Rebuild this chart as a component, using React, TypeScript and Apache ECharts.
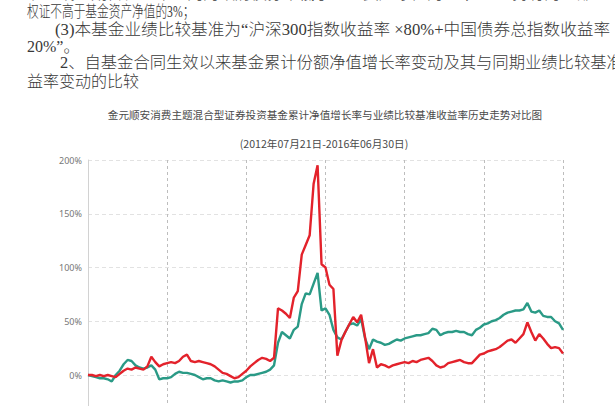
import React, { useEffect, useRef } from 'react';
import * as echarts from 'echarts';

// 基金累计净值增长率 (%)
const fund = [
  0, 0, -1, 0, -1, 0, -1, -2, 1, 4,
  6, 5, 7, 6, 5, 8, 17, 12, 8, 10,
  11, 12, 11, 13, 17, 19, 13, 12, 13, 12,
  11, 10, 8, 5, 2, 1, -1, -3, -2, 1,
  4, 8, 11, 14, 16, 15, 13, 16, 62, 60,
  57, 53, 72, 78, 112, 121, 130, 178, 195, 103,
  100, 84, 80, 18, 32, 40, 47, 54, 49, 56,
  35, 11, 24, 7, 10, 9, 7, 9, 10, 11,
  12, 11, 13, 12, 14, 15, 16, 13, 9, 7,
  8, 11, 12, 13, 14, 12, 11, 11, 15, 19,
  20, 22, 23, 24, 26, 29, 32, 33, 30, 34,
  38, 49, 40, 32, 38, 34, 29, 25, 26, 25,
  20,
];

// 业绩比较基准收益率 (%)
const bench = [
  0, -1, -2, -3, -3, -4, -6, 0, 4, 10,
  14, 13, 9, 7, 6, 7, 9, 5, -4, -3,
  -3, -2, 1, 3, 2, 2, 1, 0, -2, -4,
  -3, -3, -5, -6, -5, -6, -7, -6, -6, -5,
  -2, 0, 0, 1, 2, 3, 5, 9, 30, 40,
  37, 34, 42, 45, 66, 76, 75, 85, 95, 60,
  62, 56, 42, 35, 33, 40, 47, 48, 46, 52,
  34, 24, 33, 31, 30, 28, 29, 31, 33, 32,
  34, 35, 36, 37, 37, 38, 39, 43, 42, 37,
  39, 40, 40, 41, 40, 40, 38, 37, 42, 44,
  47, 48, 50, 51, 53, 56, 58, 59, 60, 60,
  61, 67, 59, 58, 60, 55, 54, 54, 50, 48,
  42,
];

const yMin = -50;
const yMax = 200;
const yStep = 50;

const chartTitle = '金元顺安消费主题混合型证券投资基金累计净值增长率与业绩比较基准收益率历史走势对比图';
const chartPeriod = '(2012年07月21日-2016年06月30日)';

const textLines = [
  '现金或到期日在一年以内的政府债券不低于基金资产净值的5%，基金持有的全部',
  '权证不高于基金资产净值的3%；',
  '(3)本基金业绩比较基准为“沪深300指数收益率 ×80%+中国债券总指数收益率',
  '20%”。',
  '2、自基金合同生效以来基金累计份额净值增长率变动及其与同期业绩比较基准收',
  '益率变动的比较',
];

const categories = fund.map((_, i) => String(i));

const bodyFont = '"Liberation Serif", "Noto Sans CJK SC", serif';
const cjkFont = '"Noto Sans CJK SC", "Noto Sans", sans-serif';

export default function App() {
  const ref = useRef<HTMLDivElement>(null);

  useEffect(() => {
    if (!ref.current) return;
    const chart = echarts.init(ref.current, undefined, { renderer: 'svg' });

    const lineLayout = [
      { x: 27, y: -7, sx: 1 },
      { x: 27, y: 11.7, sx: 0.73 },
      { x: 55, y: 30, sx: 1.042 },
      { x: 27, y: 46.5, sx: 1 },
      { x: 60, y: 63, sx: 1.02 },
      { x: 27, y: 81, sx: 1 },
    ];

    const graphic = textLines.map((t, i) => ({
      type: 'text',
      x: lineLayout[i].x,
      y: lineLayout[i].y,
      scaleX: lineLayout[i].sx,
      silent: true,
      style: {
        text: t,
        fontSize: 16,
        fontWeight: 300,
        fontFamily: bodyFont,
        fill: '#383838',
        verticalAlign: 'middle',
        align: 'left',
      },
    }));

    chart.setOption({
      animation: false,
      backgroundColor: '#ffffff',
      title: [
        {
          text: chartTitle,
          left: 325,
          top: 109.5,
          textAlign: 'center',
          padding: 0,
          textStyle: { fontSize: 10.6, fontWeight: 'normal', color: '#4a4a4a', fontFamily: cjkFont },
        },
        {
          text: chartPeriod,
          left: 324,
          top: 138.5,
          textAlign: 'center',
          padding: 0,
          textStyle: { fontSize: 10.6, fontWeight: 'normal', color: '#4a4a4a', fontFamily: cjkFont },
        },
      ],
      grid: { left: 88, right: 52, top: 160, bottom: 41.25, containLabel: false },
      xAxis: {
        type: 'category',
        data: categories,
        boundaryGap: false,
        axisLine: { show: true, onZero: false, lineStyle: { color: '#cccccc' } },
        axisTick: { show: false },
        axisLabel: { show: false, interval: 19 },
        splitLine: { show: true, interval: 19, lineStyle: { color: '#bdbdbd', type: [3, 3], width: 1 } },
      },
      yAxis: {
        type: 'value',
        min: yMin,
        max: yMax,
        interval: yStep,
        axisLine: { show: true, lineStyle: { color: '#d2d2d2' } },
        axisTick: { show: false },
        axisLabel: {
          formatter: (v: number) => (v === yMin ? '' : v + '%'),
          fontSize: 9,
          color: '#777777',
          margin: 6,
          fontFamily: '"Noto Sans", sans-serif',
        },
        splitLine: { show: true, lineStyle: { color: '#e2e2e2', type: [4, 3], width: 1 } },
      },
      series: [
        {
          name: '业绩比较基准收益率',
          type: 'line',
          data: bench,
          showSymbol: false,
          lineStyle: { color: '#2a9a86', width: 2.4 },
          itemStyle: { color: '#2a9a86' },
          z: 2,
        },
        {
          name: '基金累计净值增长率',
          type: 'line',
          data: fund,
          showSymbol: false,
          lineStyle: { color: '#e3222b', width: 2.4 },
          itemStyle: { color: '#e3222b' },
          z: 3,
        },
      ],
      graphic,
    });

    return () => chart.dispose();
  }, []);

  return (
    <div style={{ position: 'fixed', left: 0, top: 0, width: 615, height: 406, overflow: 'hidden', background: '#fff' }}>
      <div ref={ref} style={{ width: 615, height: 470 }} />
    </div>
  );
}
